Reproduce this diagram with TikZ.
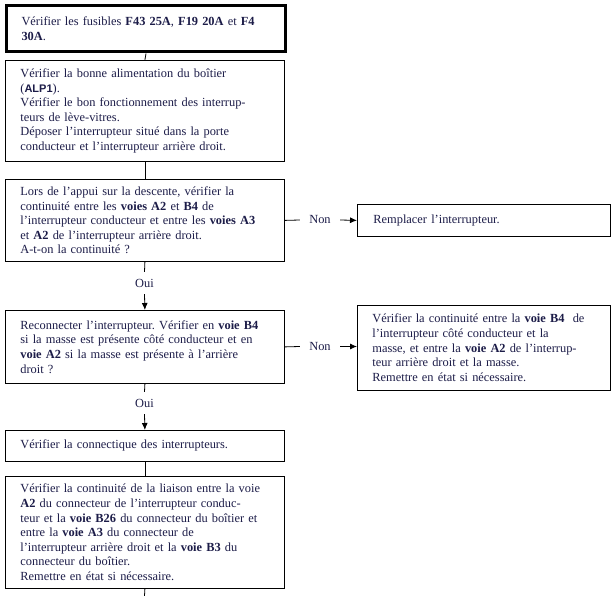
\documentclass[tikz,border=0pt]{standalone}
\usepackage{fontspec}
\setmainfont{Liberation Serif}
\newfontfamily\arialf{Liberation Sans}
\usetikzlibrary{arrows.meta}
\definecolor{txt}{RGB}{28,28,72}
\frenchspacing
\begin{document}
\begin{tikzpicture}[x=1pt,y=-1pt,
  box/.style={draw,line width=0.8pt,anchor=north west,minimum width=279pt,text width=249pt,inner xsep=15pt,inner ysep=0pt,align=left,font=\fontsize{12.4}{14.6}\selectfont,text=txt},
  sidebox/.style={box,minimum width=253pt,text width=223pt},
  lbl/.style={inner sep=0pt,font=\fontsize{12.4}{14}\selectfont,text=txt},
  conn/.style={line width=0.8pt},
  arr/.style={line width=0.8pt,-{Latex[length=7pt,width=6pt]}}]
\useasboundingbox (0,0) rectangle (613,596);
\node[box,line width=3pt,minimum height=46pt] (b1) at (5,4.5)
 {Vérifier les fusibles \textbf{F43 25A}, \textbf{F19 20A} et \textbf{F4}\\ \textbf{30A}.};
\node[box,minimum height=101pt] (b2) at (5,60)
 {Vérifier la bonne alimentation du boîtier\\ ({\arialf\bfseries\fontsize{11}{14.6}\selectfont ALP1}).\\ Vérifier le bon fonctionnement des interrup-\\teurs de lève-vitres.\\ Déposer l’interrupteur situé dans la porte\\ conducteur et l’interrupteur arrière droit.};
\node[box,minimum height=82pt] (b3) at (5,179)
 {Lors de l’appui sur la descente, vérifier la\\ continuité entre les \textbf{voies A2} et \textbf{B4} de\\ l’interrupteur conducteur et entre les \textbf{voies A3}\\ et \textbf{A2} de l’interrupteur arrière droit.\\ A-t-on la continuité ?};
\node[sidebox,minimum height=32pt,inner xsep=16pt,text width=221pt] (rep) at (357,204)
 {Remplacer l’interrupteur.};
\node[box,minimum height=73pt] (b4) at (5,310)
 {Reconnecter l’interrupteur. Vérifier en \textbf{voie B4}\\ si la masse est présente côté conducteur et en\\ \textbf{voie A2} si la masse est présente à l’arrière\\ droit ?};
\node[sidebox,minimum height=85pt] (b5) at (357,305)
 {Vérifier la continuité entre la \textbf{voie B4}\ \ de\\ l’interrupteur côté conducteur et la\\ masse, et entre la \textbf{voie A2} de l’interrup-\\teur arrière droit et la masse.\\ Remettre en état si nécessaire.};
\node[box,minimum height=31pt] (b6) at (5,430)
 {Vérifier la connectique des interrupteurs.};
\node[box,minimum height=112pt] (b7) at (5,476)
 {Vérifier la continuité de la liaison entre la voie\\ \textbf{A2} du connecteur de l’interrupteur conduc-\\teur et la \textbf{voie B26} du connecteur du boîtier et\\ entre la \textbf{voie A3} du connecteur de\\ l’interrupteur arrière droit et la \textbf{voie B3} du\\ connecteur du boîtier.\\ Remettre en état si nécessaire.};
% labels
\node[lbl,minimum width=40pt] (n1) at (320,220) {Non};
\node[lbl,minimum width=40pt] (n2) at (320,346.5) {Non};
\node[lbl,minimum height=22pt] (o1) at (144.5,283) {Oui};
\node[lbl,minimum height=22pt] (o2) at (144.5,403) {Oui};
\coordinate (e) at (144.5,596);
% connectors
\draw[conn] (b1.south) -- (b2.north);
\draw[conn] (b2.south) -- (b3.north);
\draw[conn] (b3.east) -- (n1.west);
\draw[arr] (n1.east) -- (rep.west);
\draw[conn] (b3.south) -- (o1.north);
\draw[arr] (o1.south) -- (b4.north);
\draw[conn] (b4.east) -- (n2.west);
\draw[arr] (n2.east) -- (n2.east -| b5.west);
\draw[conn] (b4.south) -- (o2.north);
\draw[arr] (o2.south) -- (b6.north);
\draw[conn] (b6.south) -- (b7.north);
\draw[conn] (b7.south) -- (e);
\end{tikzpicture}
\end{document}
